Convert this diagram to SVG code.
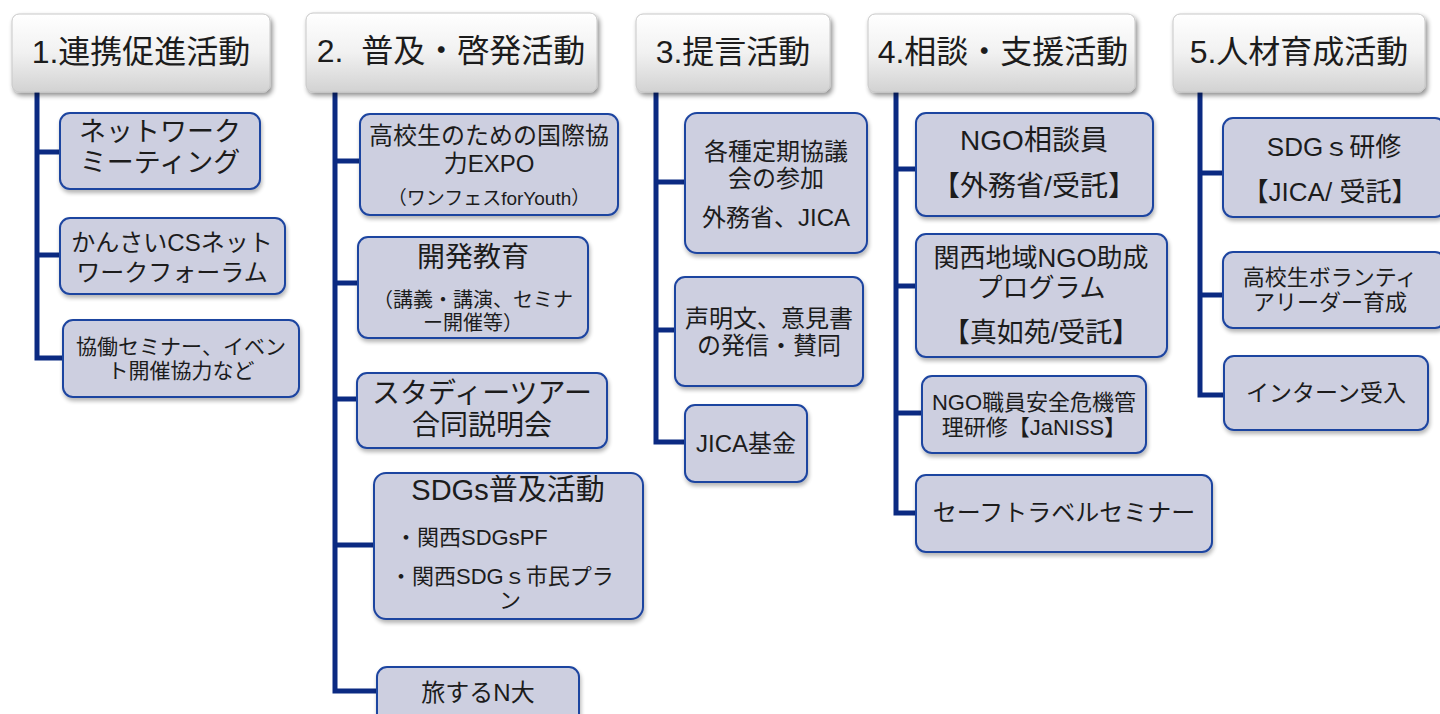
<svg xmlns="http://www.w3.org/2000/svg" width="1440" height="714" viewBox="0 0 1440 714">
<defs>
<linearGradient id="hg" x1="0" y1="0" x2="0" y2="1">
<stop offset="0" stop-color="#ffffff"/>
<stop offset="0.5" stop-color="#f1f1f1"/>
<stop offset="1" stop-color="#d2d2d2"/>
</linearGradient>
<filter id="sh" x="-10%" y="-10%" width="125%" height="130%">
<feGaussianBlur in="SourceAlpha" stdDeviation="2.5"/>
<feOffset dx="2" dy="3" result="b"/>
<feComponentTransfer><feFuncA type="linear" slope="0.45"/></feComponentTransfer>
<feMerge><feMergeNode/><feMergeNode in="SourceGraphic"/></feMerge>
</filter>
<filter id="sh2" x="-10%" y="-10%" width="125%" height="130%">
<feGaussianBlur in="SourceAlpha" stdDeviation="2"/>
<feOffset dx="1" dy="3" result="b"/>
<feComponentTransfer><feFuncA type="linear" slope="0.3"/></feComponentTransfer>
<feMerge><feMergeNode/><feMergeNode in="SourceGraphic"/></feMerge>
</filter>
</defs>
<style>
.hd{fill:url(#hg);stroke:#c8c8c8;stroke-width:1;filter:url(#sh)}
.bx{fill:#cdcfe0;stroke:#1f45a0;stroke-width:2;filter:url(#sh2)}
.ln{fill:none;stroke:#0b2a82;stroke-width:5;stroke-linejoin:miter}
text{font-family:"Liberation Sans","Noto Sans CJK JP",sans-serif;fill:#1c1c1c;text-anchor:middle;dominant-baseline:central}
.h{font-size:32px}
.f29{font-size:29px}.f28{font-size:28px}.f27{font-size:27px}.f26{font-size:26px}.f24{font-size:24px}.f23{font-size:23px}.f22{font-size:22px}.f21{font-size:21px}.f20{font-size:20px}.f19{font-size:19px}
.st{text-anchor:start}
</style>
<rect width="1440" height="714" fill="#ffffff"/>
<g id="connectors">
<polyline class="ln" points="37,92 37,358 63,358"/>
<line class="ln" x1="37" y1="152" x2="60" y2="152"/>
<line class="ln" x1="37" y1="255" x2="60" y2="255"/>
<polyline class="ln" points="335,92 335,691 377,691"/>
<line class="ln" x1="335" y1="161" x2="360" y2="161"/>
<line class="ln" x1="335" y1="283" x2="358" y2="283"/>
<line class="ln" x1="335" y1="399" x2="357" y2="399"/>
<line class="ln" x1="335" y1="545" x2="374" y2="545"/>
<polyline class="ln" points="656,92 656,442 685,442"/>
<line class="ln" x1="656" y1="182" x2="685" y2="182"/>
<line class="ln" x1="656" y1="330" x2="675" y2="330"/>
<polyline class="ln" points="896,92 896,513 916,513"/>
<line class="ln" x1="896" y1="169" x2="916" y2="169"/>
<line class="ln" x1="896" y1="286" x2="916" y2="286"/>
<line class="ln" x1="896" y1="413" x2="922" y2="413"/>
<polyline class="ln" points="1200,92 1200,395 1224,395"/>
<line class="ln" x1="1200" y1="173" x2="1223" y2="173"/>
<line class="ln" x1="1200" y1="295" x2="1223" y2="295"/>
</g>
<g id="h1"><rect class="hd" x="12" y="14" width="258" height="78" rx="7"/><text class="h" x="141" y="52">1.連携促進活動</text></g>
<g id="h2"><rect class="hd" x="306" y="13" width="291" height="79" rx="7"/><text class="h" x="451" y="51" xml:space="preserve">2.  普及・啓発活動</text></g>
<g id="h3"><rect class="hd" x="636" y="14" width="194" height="78" rx="7"/><text class="h" x="733" y="52">3.提言活動</text></g>
<g id="h4"><rect class="hd" x="868" y="14" width="267" height="78" rx="7"/><text class="h" x="1003" y="52">4.相談・支援活動</text></g>
<g id="h5"><rect class="hd" x="1173" y="14" width="252" height="78" rx="7"/><text class="h" x="1299" y="52">5.人材育成活動</text></g>

<g id="n1a"><rect class="bx" x="60" y="113" width="200" height="76" rx="10"/><text class="f27" x="160" y="132">ネットワーク</text><text class="f27" x="160" y="163">ミーティング</text></g>
<g id="n1b"><rect class="bx" x="60" y="218" width="225" height="76" rx="10"/><text class="f24" x="172" y="242">かんさいCSネット</text><text class="f24" x="172" y="272">ワークフォーラム</text></g>
<g id="n1c"><rect class="bx" x="63" y="320" width="236" height="77" rx="10"/><text class="f21" x="181" y="346">協働セミナー、イベン</text><text class="f21" x="181" y="370">ト開催協力など</text></g>

<g id="n2a"><rect class="bx" x="360" y="114" width="258" height="101" rx="10"/><text class="f24" x="489" y="135">高校生のための国際協</text><text class="f24" x="489" y="163">力EXPO</text><text class="f19" x="489" y="198">（ワンフェスforYouth）</text></g>
<g id="n2b"><rect class="bx" x="358" y="237" width="230" height="101" rx="10"/><text class="f28" x="473" y="257">開発教育</text><text class="f20" x="473" y="300">（講義・講演、セミナ</text><text class="f20" x="473" y="323">ー開催等）</text></g>
<g id="n2c"><rect class="bx" x="357" y="373" width="250" height="75" rx="10"/><text class="f28" x="482" y="393">スタディーツアー</text><text class="f28" x="482" y="425">合同説明会</text></g>
<g id="n2d"><rect class="bx" x="374" y="473" width="269" height="146" rx="12"/><text class="f29" x="508" y="490">SDGs普及活動</text><text class="f22 st" x="395" y="537">・関西SDGsPF</text><text class="f22 st" x="390" y="576">・関西SDGｓ市民プラ</text><text class="f22" x="510" y="600">ン</text></g>
<g id="n2e"><rect class="bx" x="377" y="667" width="202" height="60" rx="10"/><text class="f24" x="478" y="692">旅するN大</text></g>

<g id="n3a"><rect class="bx" x="685" y="113" width="182" height="140" rx="12"/><text class="f24" x="776" y="151">各種定期協議</text><text class="f24" x="776" y="178">会の参加</text><text class="f24" x="776" y="217">外務省、JICA</text></g>
<g id="n3b"><rect class="bx" x="675" y="277" width="188" height="109" rx="10"/><text class="f24" x="769" y="318">声明文、意見書</text><text class="f24" x="769" y="345">の発信・賛同</text></g>
<g id="n3c"><rect class="bx" x="685" y="405" width="122" height="77" rx="10"/><text class="f24" x="746" y="443">JICA基金</text></g>

<g id="n4a"><rect class="bx" x="916" y="113" width="237" height="103" rx="10"/><text class="f28" x="1034" y="140">NGO相談員</text><text class="f28" x="1034" y="186">【外務省/受託】</text></g>
<g id="n4b"><rect class="bx" x="916" y="234" width="251" height="123" rx="10"/><text class="f26" x="1041" y="258">関西地域NGO助成</text><text class="f26" x="1041" y="288">プログラム</text><text class="f27" x="1041" y="333">【真如苑/受託】</text></g>
<g id="n4c"><rect class="bx" x="922" y="376" width="224" height="77" rx="10"/><text class="f22" x="1034" y="402">NGO職員安全危機管</text><text class="f22" x="1034" y="427">理研修【JaNISS】</text></g>
<g id="n4d"><rect class="bx" x="916" y="475" width="296" height="77" rx="10"/><text class="f24" x="1064" y="512">セーフトラベルセミナー</text></g>

<g id="n5a"><rect class="bx" x="1223" y="118" width="222" height="99" rx="10"/><text class="f26" x="1334" y="147">SDGｓ研修</text><text class="f26" x="1330" y="192">【JICA/ 受託】</text></g>
<g id="n5b"><rect class="bx" x="1223" y="252" width="222" height="76" rx="10"/><text class="f22" x="1330" y="277">高校生ボランティ</text><text class="f22" x="1330" y="302">アリーダー育成</text></g>
<g id="n5c"><rect class="bx" x="1224" y="356" width="204" height="74" rx="10"/><text class="f23" x="1326" y="393">インターン受入</text></g>
</svg>
